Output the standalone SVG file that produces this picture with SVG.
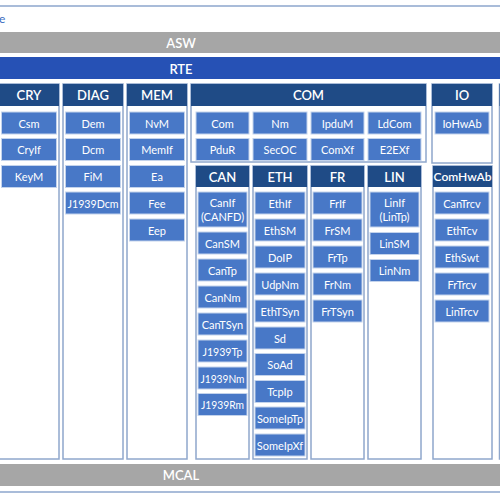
<svg xmlns="http://www.w3.org/2000/svg" width="500" height="500" viewBox="0 0 500 500">
<style>
.col{fill:#fff;stroke:#8fa7cc;stroke-width:1.5}
.hdr{fill:#1f4b86}
.item{fill:#4878c7;stroke:#c3d3ec;stroke-width:1}
.ht{font-family:Lato,"Liberation Sans",sans-serif;font-size:13px;font-weight:600;fill:#fff;text-anchor:middle;dominant-baseline:central}
.it{font-family:Lato,"Liberation Sans",sans-serif;font-size:11px;font-weight:400;fill:#fff;text-anchor:middle;dominant-baseline:central}
.bt{font-family:Lato,"Liberation Sans",sans-serif;font-size:13px;font-weight:600;fill:#fff;text-anchor:middle;dominant-baseline:central}
.frame{stroke:#8da6cd;stroke-width:1.5;fill:none}
</style>
<rect width="500" height="500" fill="#fff"/>
<line class="frame" x1="0" y1="6" x2="500" y2="6"/>
<line class="frame" x1="0" y1="492" x2="500" y2="492"/>
<text x="-1" y="18" style="font-family:Lato,sans-serif;font-size:12px;fill:#3b6cc0;dominant-baseline:central">e</text>

<g id="ASW"><rect x="-5" y="32" width="510" height="21" fill="#a6a6a6"/><text class="bt" x="181" y="43">ASW</text></g>
<g id="RTE"><rect x="-5" y="57" width="510" height="22" fill="#2651b5"/><text class="bt" x="181" y="68.5">RTE</text></g>
<g id="MCAL"><rect x="-5" y="464" width="510" height="22" fill="#a6a6a6"/><text class="bt" x="181" y="475">MCAL</text></g>

<g id="CRY">
<rect class="col" x="-1" y="84" width="60" height="375"/><rect class="hdr" x="-1" y="84" width="60" height="22"/><text class="ht" x="29" y="95">CRY</text>
<rect class="item" x="1.5" y="112" width="55" height="22"/><text class="it" x="29" y="123">Csm</text>
<rect class="item" x="1.5" y="138.5" width="55" height="22"/><text class="it" x="29" y="149.5">CryIf</text>
<rect class="item" x="1.5" y="165.5" width="55" height="22"/><text class="it" x="29" y="176.5">KeyM</text>
</g>
<g id="DIAG">
<rect class="col" x="63" y="84" width="60" height="375"/><rect class="hdr" x="63" y="84" width="60" height="22"/><text class="ht" x="93" y="95">DIAG</text>
<rect class="item" x="65.5" y="112" width="55" height="22"/><text class="it" x="93" y="123">Dem</text>
<rect class="item" x="65.5" y="138.5" width="55" height="22"/><text class="it" x="93" y="149.5">Dcm</text>
<rect class="item" x="65.5" y="165.5" width="55" height="22"/><text class="it" x="93" y="176.5">FiM</text>
<rect class="item" x="65.5" y="192" width="55" height="22"/><text class="it" x="93" y="203" textLength="51" lengthAdjust="spacingAndGlyphs">J1939Dcm</text>
</g>
<g id="MEM">
<rect class="col" x="127" y="84" width="60" height="375"/><rect class="hdr" x="127" y="84" width="60" height="22"/><text class="ht" x="157" y="95">MEM</text>
<rect class="item" x="129.5" y="112" width="55" height="22"/><text class="it" x="157" y="123">NvM</text>
<rect class="item" x="129.5" y="138.5" width="55" height="22"/><text class="it" x="157" y="149.5">MemIf</text>
<rect class="item" x="129.5" y="165.5" width="55" height="22"/><text class="it" x="157" y="176.5">Ea</text>
<rect class="item" x="129.5" y="192" width="55" height="22"/><text class="it" x="157" y="203">Fee</text>
<rect class="item" x="129.5" y="219" width="55" height="22"/><text class="it" x="157" y="230">Eep</text>
</g>
<g id="COM">
<rect class="col" x="191" y="84" width="235" height="78"/><rect class="hdr" x="191" y="84" width="235" height="22"/><text class="ht" x="308.5" y="95">COM</text>
<rect class="item" x="196" y="112" width="53" height="22"/><text class="it" x="222.5" y="123">Com</text>
<rect class="item" x="253" y="112" width="54" height="22"/><text class="it" x="280" y="123">Nm</text>
<rect class="item" x="311" y="112" width="53" height="22"/><text class="it" x="337.5" y="123">IpduM</text>
<rect class="item" x="368" y="112" width="53" height="22"/><text class="it" x="394.5" y="123">LdCom</text>
<rect class="item" x="196" y="138.5" width="53" height="22"/><text class="it" x="222.5" y="149.5">PduR</text>
<rect class="item" x="253" y="138.5" width="54" height="22"/><text class="it" x="280" y="149.5">SecOC</text>
<rect class="item" x="311" y="138.5" width="53" height="22"/><text class="it" x="337.5" y="149.5">ComXf</text>
<rect class="item" x="368" y="138.5" width="53" height="22"/><text class="it" x="394.5" y="149.5">E2EXf</text>
</g>
<g id="IO">
<rect class="col" x="432" y="84" width="60" height="79"/><rect class="hdr" x="432" y="84" width="60" height="22"/><text class="ht" x="462" y="95">IO</text>
<rect class="item" x="435" y="112" width="54" height="22"/><text class="it" x="462" y="123">IoHwAb</text>
</g>
<g id="CAN">
<rect class="col" x="196" y="166" width="53" height="293"/><rect class="hdr" x="196" y="166" width="53" height="21"/><text class="ht" x="222.5" y="176.5">CAN</text>
<rect class="item" x="198" y="192" width="49" height="35"/><text class="it" x="222.5" y="202.5">CanIf</text><text class="it" x="222.5" y="216">(CANFD)</text>
<rect class="item" x="198" y="232" width="49" height="22"/><text class="it" x="222.5" y="243">CanSM</text>
<rect class="item" x="198" y="259" width="49" height="22"/><text class="it" x="222.5" y="270">CanTp</text>
<rect class="item" x="198" y="286" width="49" height="22"/><text class="it" x="222.5" y="297">CanNm</text>
<rect class="item" x="198" y="313" width="49" height="22"/><text class="it" x="222.5" y="324">CanTSyn</text>
<rect class="item" x="198" y="340" width="49" height="22"/><text class="it" x="222.5" y="351" textLength="40" lengthAdjust="spacingAndGlyphs">J1939Tp</text>
<rect class="item" x="198" y="367" width="49" height="22"/><text class="it" x="222.5" y="378" textLength="44" lengthAdjust="spacingAndGlyphs">J1939Nm</text>
<rect class="item" x="198" y="393.5" width="49" height="22"/><text class="it" x="222.5" y="404.5" textLength="43" lengthAdjust="spacingAndGlyphs">J1939Rm</text>
</g>
<g id="ETH">
<rect class="col" x="253" y="166" width="54" height="293"/><rect class="hdr" x="253" y="166" width="54" height="21"/><text class="ht" x="280" y="176.5">ETH</text>
<rect class="item" x="255" y="192" width="50" height="22"/><text class="it" x="280" y="203">EthIf</text>
<rect class="item" x="255" y="219" width="50" height="22"/><text class="it" x="280" y="230">EthSM</text>
<rect class="item" x="255" y="246" width="50" height="22"/><text class="it" x="280" y="257">DoIP</text>
<rect class="item" x="255" y="273" width="50" height="22"/><text class="it" x="280" y="284">UdpNm</text>
<rect class="item" x="255" y="300" width="50" height="22"/><text class="it" x="280" y="311">EthTSyn</text>
<rect class="item" x="255" y="327" width="50" height="22"/><text class="it" x="280" y="338">Sd</text>
<rect class="item" x="255" y="353.5" width="50" height="22"/><text class="it" x="280" y="364.5">SoAd</text>
<rect class="item" x="255" y="380.5" width="50" height="22"/><text class="it" x="280" y="391.5">TcpIp</text>
<rect class="item" x="255" y="407" width="50" height="22"/><text class="it" x="280" y="418">SomeIpTp</text>
<rect class="item" x="255" y="434" width="50" height="22"/><text class="it" x="280" y="445">SomeIpXf</text>
</g>
<g id="FR">
<rect class="col" x="311" y="166" width="53" height="293"/><rect class="hdr" x="311" y="166" width="53" height="21"/><text class="ht" x="337.5" y="176.5">FR</text>
<rect class="item" x="313" y="192" width="49" height="22"/><text class="it" x="337.5" y="203">FrIf</text>
<rect class="item" x="313" y="219" width="49" height="22"/><text class="it" x="337.5" y="230">FrSM</text>
<rect class="item" x="313" y="246" width="49" height="22"/><text class="it" x="337.5" y="257">FrTp</text>
<rect class="item" x="313" y="273" width="49" height="22"/><text class="it" x="337.5" y="284">FrNm</text>
<rect class="item" x="313" y="300" width="49" height="22"/><text class="it" x="337.5" y="311">FrTSyn</text>
</g>
<g id="LIN">
<rect class="col" x="368" y="166" width="53" height="293"/><rect class="hdr" x="368" y="166" width="53" height="21"/><text class="ht" x="394.5" y="176.5">LIN</text>
<rect class="item" x="370" y="192" width="49" height="35"/><text class="it" x="394.5" y="202.5">LinIf</text><text class="it" x="394.5" y="216">(LinTp)</text>
<rect class="item" x="370" y="232.5" width="49" height="22"/><text class="it" x="394.5" y="243.5">LinSM</text>
<rect class="item" x="370" y="259.5" width="49" height="22"/><text class="it" x="394.5" y="270.5">LinNm</text>
</g>
<g id="ComHwAb">
<rect class="col" x="433" y="166" width="59" height="293"/><rect class="hdr" x="433" y="166" width="59" height="21"/><text class="ht" x="462.5" y="176.5" style="font-size:12px">ComHwAb</text>
<rect class="item" x="435" y="192" width="54" height="22"/><text class="it" x="462" y="203">CanTrcv</text>
<rect class="item" x="435" y="219" width="54" height="22"/><text class="it" x="462" y="230">EthTcv</text>
<rect class="item" x="435" y="246" width="54" height="22"/><text class="it" x="462" y="257">EthSwt</text>
<rect class="item" x="435" y="273" width="54" height="22"/><text class="it" x="462" y="284">FrTrcv</text>
<rect class="item" x="435" y="300" width="54" height="22"/><text class="it" x="462" y="311">LinTrcv</text>
</g>
<g id="Next">
<rect class="col" x="499.5" y="84" width="60" height="375"/><rect class="hdr" x="499.5" y="84" width="60" height="22"/>
</g>
<g id="connectors"></g>
</svg>
